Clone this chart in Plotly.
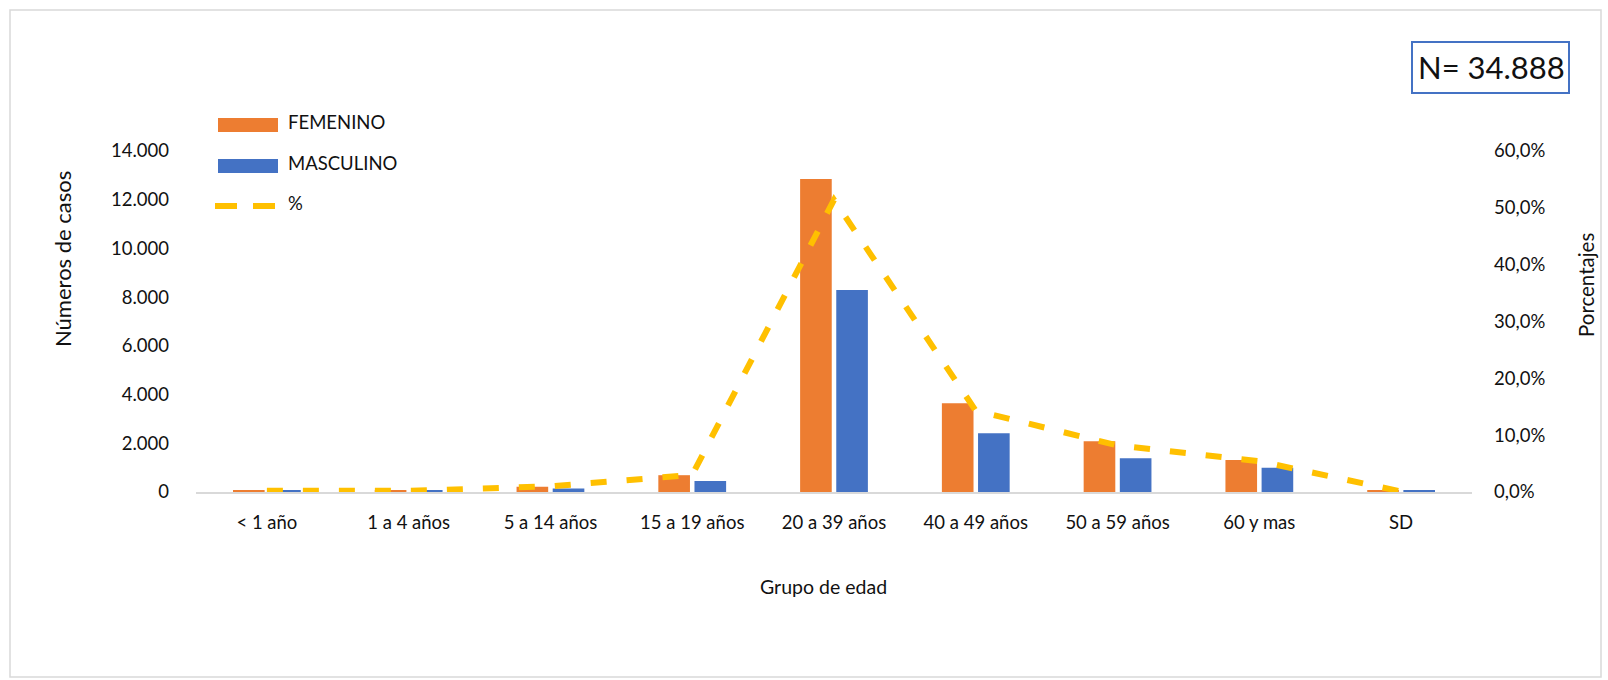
import plotly.graph_objects as go

categories = ["< 1 año", "1 a 4 años", "5 a 14 años", "15 a 19 años", "20 a 39 años",
              "40 a 49 años", "50 a 59 años", "60 y mas", "SD"]
femenino = [70, 70, 220, 690, 12850, 3640, 2080, 1310, 75]
masculino = [70, 80, 140, 450, 8290, 2410, 1390, 1000, 70]
porcentaje = [0.002, 0.002, 0.010, 0.030, 0.514, 0.143, 0.082, 0.054, 0.001]
left_ticks = [0, 2000, 4000, 6000, 8000, 10000, 12000, 14000]
left_labels = ["0", "2.000", "4.000", "6.000", "8.000", "10.000", "12.000", "14.000"]
right_ticks = [0, 0.1, 0.2, 0.3, 0.4, 0.5, 0.6]
right_labels = ["0,0%", "10,0%", "20,0%", "30,0%", "40,0%", "50,0%", "60,0%"]

ORANGE = "#ED7D31"
BLUE = "#4472C4"
YELLOW = "#FFC000"
TXT = "#111111"
FONT = "Lato, 'Open Sans', sans-serif"

W, H = 1608, 680
L, R, T, B = 196, 1472, 151, 492


def px(x):
    return (x - L) / (R - L)


def py(y):
    return (B - y) / (B - T)


fig = go.Figure()
fig.add_trace(go.Bar(x=categories, y=femenino, name="FEMENINO", marker_color=ORANGE,
                     marker_line_width=0, showlegend=False))
fig.add_trace(go.Bar(x=categories, y=masculino, name="MASCULINO", marker_color=BLUE,
                     marker_line_width=0, showlegend=False))
fig.add_trace(go.Scatter(x=categories, y=porcentaje, name="%", yaxis="y2", mode="lines",
                         line=dict(color=YELLOW, width=6, dash="16px,20px"),
                         showlegend=False))

shapes = []
annotations = []

# outer chart border
shapes.append(dict(type="rect", xref="paper", yref="paper", x0=px(10), x1=px(1601),
                   y0=py(677), y1=py(10), line=dict(color="#D9D9D9", width=1.5), layer="below"))
# N box
shapes.append(dict(type="rect", xref="paper", yref="paper", x0=px(1412), x1=px(1569),
                   y0=py(93), y1=py(42), line=dict(color=BLUE, width=2)))
annotations.append(dict(text="N= 34.888", xref="paper", yref="paper", x=px(1491), y=py(67),
                        showarrow=False, font=dict(size=31, color=TXT, family=FONT),
                        xanchor="center", yanchor="middle"))

# manual legend
legend_rows = [("FEMENINO", ORANGE, 125), ("MASCULINO", BLUE, 166)]
for name, col, yc in legend_rows:
    shapes.append(dict(type="rect", xref="paper", yref="paper", x0=px(218), x1=px(278),
                       y0=py(yc + 7), y1=py(yc - 7), line=dict(width=0), fillcolor=col))
    annotations.append(dict(text=name, xref="paper", yref="paper", x=px(286), y=py(yc - 3),
                            showarrow=False, xanchor="left", yanchor="middle",
                            font=dict(size=18.5, color=TXT, family=FONT)))
for x0, x1 in [(215, 237), (253, 275)]:
    shapes.append(dict(type="line", xref="paper", yref="paper", x0=px(x0), x1=px(x1),
                       y0=py(206), y1=py(206), line=dict(color=YELLOW, width=6)))
annotations.append(dict(text="%", xref="paper", yref="paper", x=px(286), y=py(203),
                        showarrow=False, xanchor="left", yanchor="middle",
                        font=dict(size=18.5, color=TXT, family=FONT)))

# axis titles
annotations.append(dict(text="Números de casos", xref="paper", yref="paper", x=px(62), y=py(259),
                        showarrow=False, textangle=-90, xanchor="center", yanchor="middle",
                        font=dict(size=22, color=TXT, family=FONT)))
annotations.append(dict(text="Porcentajes", xref="paper", yref="paper", x=px(1586), y=py(285),
                        showarrow=False, textangle=-90, xanchor="center", yanchor="middle",
                        font=dict(size=20.5, color=TXT, family=FONT)))
annotations.append(dict(text="Grupo de edad", xref="paper", yref="paper", x=px(823), y=py(586),
                        showarrow=False, xanchor="center", yanchor="middle",
                        font=dict(size=19.5, color=TXT, family=FONT)))

fig.update_layout(
    width=W, height=H,
    margin=dict(l=L, r=W - R, t=T, b=H - B, pad=0),
    paper_bgcolor="white", plot_bgcolor="white",
    barmode="group", bargap=0.49, bargroupgap=0.125,
    font=dict(family=FONT, size=18.5, color=TXT),
    xaxis=dict(showgrid=False, showline=True, linecolor="#D9D9D9", linewidth=2,
               ticks="", tickfont=dict(size=18.5, color=TXT), ticklabelstandoff=13,
               zeroline=False),
    yaxis=dict(range=[0, 14000], tickvals=left_ticks, ticktext=left_labels, showgrid=False,
               zeroline=False, showline=False, ticks="", ticklabelstandoff=26,
               tickfont=dict(size=18.5, color=TXT)),
    yaxis2=dict(range=[0, 0.6], tickvals=right_ticks, ticktext=right_labels, overlaying="y",
                side="right", showgrid=False, zeroline=False, showline=False, ticks="",
                ticklabelstandoff=21, tickfont=dict(size=18.5, color=TXT)),
    shapes=shapes, annotations=annotations, showlegend=False,
)

fig.write_html("out.html", config={"displayModeBar": False},
               post_script="document.body.style.margin='0px';document.body.style.overflow='hidden';")
